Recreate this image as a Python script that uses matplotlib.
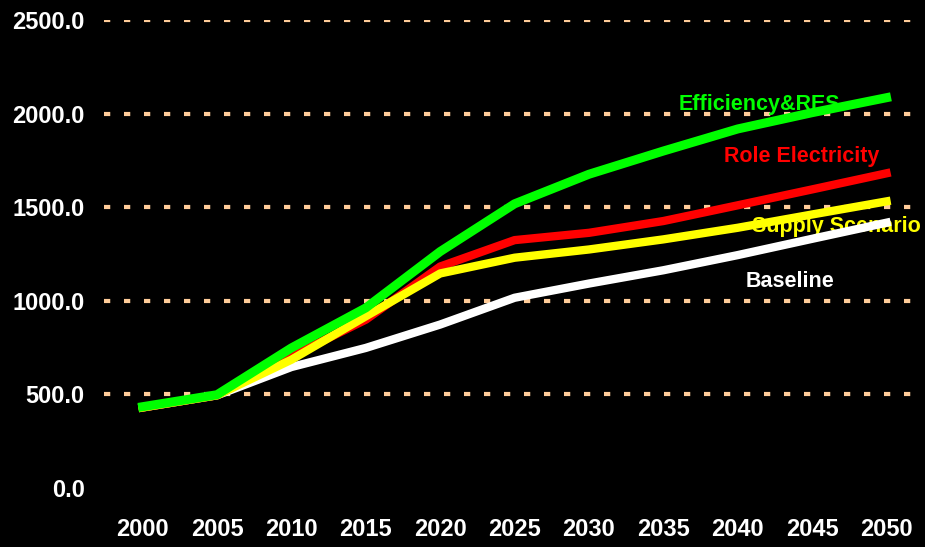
import matplotlib
matplotlib.use("Agg")
import matplotlib.pyplot as plt

years = [2000, 2005, 2010, 2015, 2020, 2025, 2030, 2035, 2040, 2045, 2050]
baseline = [430, 495, 646, 748, 873, 1016, 1092, 1163, 1244, 1331, 1417]
role_electricity = [430, 495, 703, 899, 1183, 1324, 1363, 1426, 1510, 1595, 1681]
supply_scenario = [430, 495, 685, 917, 1146, 1230, 1274, 1328, 1390, 1461, 1531]
efficiency_res = [434, 498, 748, 962, 1263, 1518, 1676, 1800, 1918, 2005, 2085]

series_names = ["Baseline", "Role Electricity", "Supply Scenario", "Efficiency&RES"]
yticks = [0, 500, 1000, 1500, 2000, 2500]
xticks = years

plt.rcParams['font.family'] = ['Liberation Sans', 'DejaVu Sans']

fig = plt.figure(figsize=(9.25, 5.47), dpi=100, facecolor='black')
ax = fig.add_axes([0.1124, 0.108, 0.8846, 0.8554])
ax.set_facecolor('black')

# gridlines (none at zero)
for yv in yticks:
    if yv > 0:
        ax.axhline(yv, color='#FFCC99', lw=3.0, linestyle=(0, (1.5, 3.3)), zorder=1)

ax.plot(years, baseline, color='white', lw=6.0, zorder=3, solid_joinstyle='round')
ax.plot(years, role_electricity, color='#FF0000', lw=6.0, zorder=4, solid_joinstyle='round')
ax.plot(years, supply_scenario, color='#FFFF00', lw=6.0, zorder=5, solid_joinstyle='round')
ax.plot(years, efficiency_res, color='#00FF00', lw=6.5, zorder=6, solid_joinstyle='round')

lab_kw = dict(fontsize=15.5, fontweight='bold', ha='center', va='center', zorder=2)
ax.text(2041.45, 2050, series_names[3], color='#00FF00', **lab_kw)
ax.text(2044.33, 1772, series_names[1], color='#FF0000', **lab_kw)
ax.text(2046.6, 1397, series_names[2], color='#FFFF00', **lab_kw)
ax.text(2043.54, 1103, series_names[0], color='white', **lab_kw)

ax.set_xlim(1997.4, 2052.4)
ax.set_ylim(0, 2500)
ax.set_yticks(yticks)
ax.set_yticklabels([f"{v:.1f}" for v in yticks])
ax.set_xticks(xticks)
ax.set_xticklabels([str(y) for y in xticks])
ax.tick_params(axis='both', length=0, colors='white', labelsize=17)
ax.tick_params(axis='y', pad=14)
ax.tick_params(axis='x', pad=22)
for lbl in ax.get_xticklabels() + ax.get_yticklabels():
    lbl.set_fontweight('bold')
for s in ax.spines.values():
    s.set_visible(False)

fig.savefig('out.png', dpi=100, facecolor='black')
